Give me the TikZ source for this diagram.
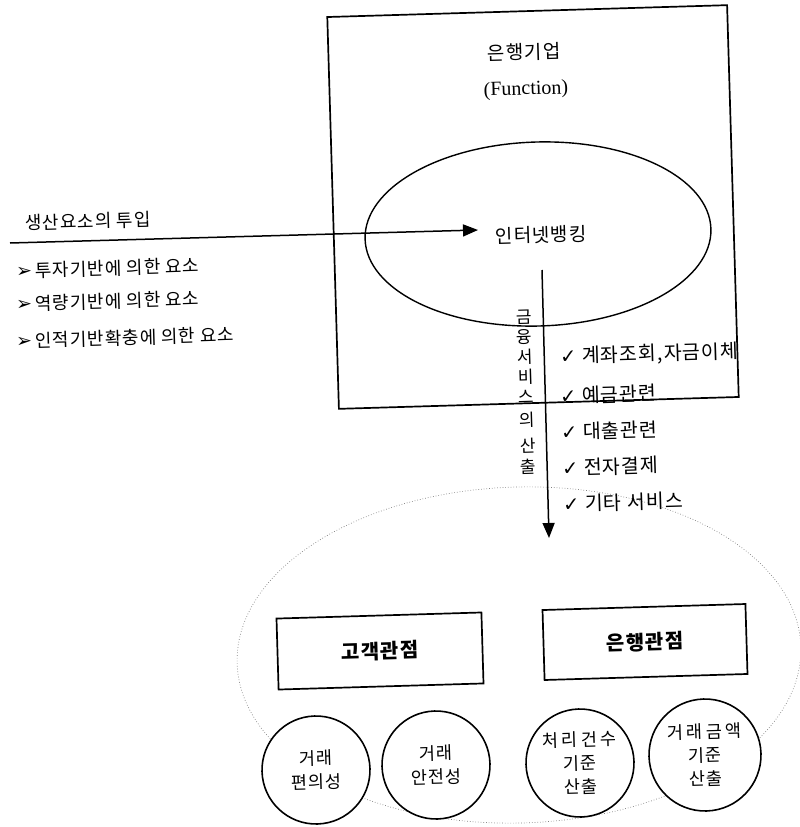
\documentclass[tikz,border=0pt]{standalone}
\usepackage{fontspec}
\setmainfont{Liberation Serif}
\newfontfamily\kr{Noto Sans CJK KR}[LetterSpace=5]
\newfontfamily\krw{Noto Sans CJK KR}[LetterSpace=18]
\newfontfamily\sym{DejaVu Sans}
\usetikzlibrary{shapes.geometric,arrows.meta}
\begin{document}
\begin{tikzpicture}[x=1pt,y=-1pt,
  krtext/.style={font=\kr\fontsize{19}{22}\selectfont, inner sep=0pt, rotate=1.7},
  itemtext/.style={font=\kr\fontsize{18}{20}\selectfont, inner sep=0pt, anchor=west, rotate=1.7},
  chktext/.style={font=\kr\fontsize{19.5}{20}\selectfont, inner sep=0pt, anchor=west, rotate=1.7},
  vchar/.style={font=\kr\fontsize{17}{18}\selectfont, inner sep=0pt, rotate=1.7},
  arr/.style={line width=1.5pt, -{Triangle[length=15pt,width=12pt]}},
  pbox/.style={draw, line width=1.7pt, minimum width=205pt, minimum height=71pt, rotate=1.7,
    font=\kr\bfseries\fontsize{20}{22}\selectfont},
  circ/.style={draw, circle, fill=white, line width=1.6pt, minimum size=108pt, inner sep=0pt,
    align=center, font=\kr\fontsize{17.5}{23.5}\selectfont, rotate=1.7}]
\useasboundingbox (0,0) rectangle (800,827);

% bank enterprise box
\node[draw, line width=1.7pt, minimum width=400pt, minimum height=392pt, rotate=1.7] (bank) at (533,207) {};
\node[krtext] (bankt) at (524,52) {은행기업};
\node[font=\fontsize{20}{22}\selectfont, inner sep=0pt, rotate=1.7] (func) at (526,90) {(Function)};

% internet banking ellipse
\node[draw, ellipse, line width=1.4pt, minimum width=346pt, minimum height=184pt, inner sep=0pt, rotate=1.7] (ib) at (538,234) {};
\node[krtext] (ibt) at (541,235) {인터넷뱅킹};

% input
\coordinate (in0) at (10,243);
\coordinate (in1) at (478,230);
\draw[arr] (in0) -- (in1);
\node[itemtext] (inlab) at (25,223) {생산요소의 투입};
\node[itemtext] (b1) at (16,271) {{\sym\fontsize{19}{16}\selectfont ➢}\,투자기반에 의한 요소};
\node[itemtext] (b2) at (16,304) {{\sym\fontsize{19}{16}\selectfont ➢}\,역량기반에 의한 요소};
\node[itemtext] (b3) at (16,341) {{\sym\fontsize{19}{16}\selectfont ➢}\,인적기반확충에 의한 요소};

% outer dotted ellipse
\node[draw, ellipse, dotted, gray, line width=0.7pt, minimum width=564pt, minimum height=336pt, inner sep=0pt, rotate=1.7] (outer) at (519,655) {};

% output arrow
\coordinate (o0) at (542,270);
\coordinate (o1) at (549,538);
\draw[arr] (o0) -- (o1);
\foreach \c/\yy [count=\i] in {금/317,융/337,서/357,비/377,스/397,의/420,산/446,출/467}
  \node[vchar] (v\i) at ({524+(\yy-319)*0.03},\yy) {\c};

\node[chktext] (s1) at (560,357) {{\sym ✓} 계좌조회,자금이체};
\node[chktext] (s2) at (560,396) {{\sym ✓} 예금관련};
\node[chktext] (s3) at (561,432) {{\sym ✓} 대출관련};
\node[chktext] (s4) at (562,468) {{\sym ✓} 전자결제};
\node[chktext] (s5) at (563,504) {{\sym ✓} 기타 서비스};

% perspectives
\node[pbox] (cust) at (380,651) {고객관점};
\node[pbox, minimum width=203pt, minimum height=70pt] (bankp) at (645,642) {은행관점};

\node[circ] (c1) at (316,770) {거래\\편의성};
\node[circ] (c2) at (436,765) {거래\\안전성};
\node[circ] (c3) at (580,763) {{\krw 처리건수}\\기준\\산출};
\node[circ, minimum size=112pt] (c4) at (705,755) {{\krw 거래금액}\\기준\\산출};
\end{tikzpicture}
\end{document}
